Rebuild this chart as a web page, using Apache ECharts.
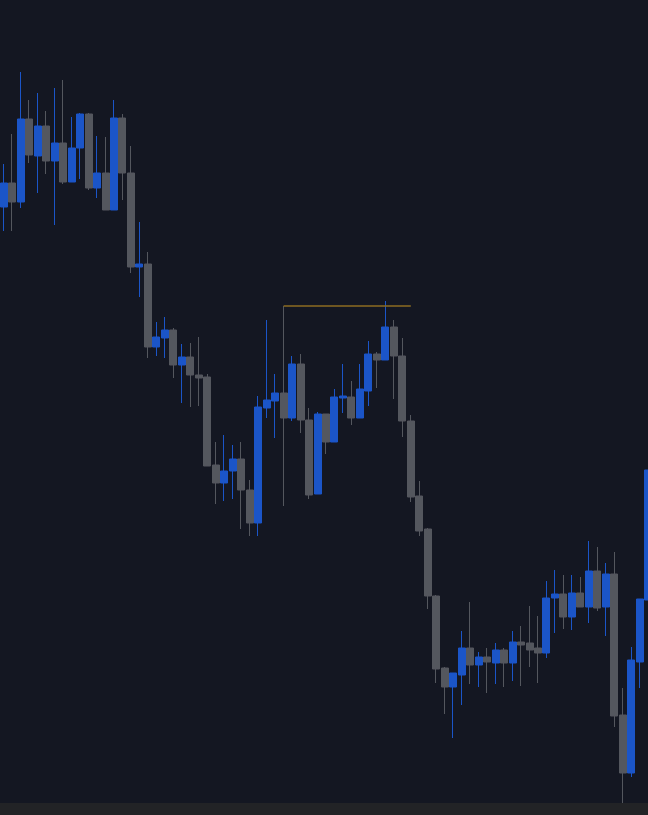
<!DOCTYPE html>
<html>
<head>
<meta charset="utf-8">
<script src="https://cdn.jsdelivr.net/npm/echarts@6/dist/echarts.min.js"></script>
<style>
html,body{margin:0;padding:0;background:#222326;}
#c{width:648px;height:815px;}
</style>
</head>
<body>
<div id="c"></div>
<script>
// Candle values (open, close, low, high)
const opens  = [613,637,618,701,664,694,659,677,638,672,706,632,647,610,702,647,553,556,473,482,490,455,463,445,443,355,337,349,361,330,297,412,419,427,402,456,400,326,406,378,422,423,402,429,466,460,493,464,399,324,291,224,152,133,145,172,155,163,157,170,157,178,177,172,167,222,226,203,227,213,249,213,246,105,47,158,220];
const closes = [637,618,701,665,694,659,677,638,672,706,632,647,610,702,647,553,556,473,483,490,455,463,445,442,354,337,349,361,330,297,413,420,427,402,456,400,325,406,378,423,424,402,431,466,460,493,464,399,323,289,224,151,133,147,172,155,163,158,170,157,178,175,170,167,222,226,203,227,213,249,212,246,104,47,160,221,350];
const lows   = [589,589,612,657,627,646,595,636,638,641,630,622,610,610,620,547,523,462,464,462,442,417,413,414,354,316,319,321,291,284,284,402,382,314,399,387,321,326,366,378,407,395,402,414,432,460,421,383,318,284,211,137,106,82,115,136,133,127,136,133,139,134,153,137,162,187,191,190,213,197,209,184,93,17,43,132,220];
const highs  = [656,686,748,720,727,709,732,740,703,707,707,684,683,720,706,674,598,568,498,503,492,476,477,483,446,378,385,375,378,340,424,500,446,514,464,466,412,408,406,431,456,439,456,479,468,519,500,482,405,339,292,225,153,147,189,218,168,172,177,172,189,194,214,204,239,250,245,245,243,279,273,257,268,132,173,221,362];
const categories = opens.map((_, i) => 'D' + (i + 1));
// Reference level drawn from the candle with the long upper wick
const levelStart = 33, levelEnd = 48, levelValue = 514;

const candles = opens.map((o, i) => [o, closes[i], lows[i], highs[i]]);

const chart = echarts.init(document.getElementById('c'), null, {renderer: 'canvas'});
chart.setOption({
  backgroundColor: '#222326',
  animation: false,
  grid: {left: -0.5, width: 653, top: 0, height: 803, show: true, backgroundColor: '#141722', borderWidth: 0,
    containLabel: false, outerBoundsMode: 'none'},
  xAxis: {type: 'category', data: categories, boundaryGap: true,
    axisLine: {show: false}, axisTick: {show: false}, axisLabel: {show: false}, splitLine: {show: false}},
  yAxis: {type: 'value', min: 17, max: 820, scale: true,
    axisLine: {show: false}, axisTick: {show: false}, axisLabel: {show: false}, splitLine: {show: false}},
  series: [{
    type: 'candlestick',
    data: candles,
    barWidth: 7.5,
    itemStyle: {color: '#1b55c8', color0: '#54575e', borderColor: '#1b55c8', borderColor0: '#54575e', borderWidth: 1},
    markLine: {
      silent: true, symbol: ['none', 'none'], label: {show: false},
      lineStyle: {color: '#8c6c22', width: 1.5, type: 'solid'},
      data: [[{coord: [categories[levelStart], levelValue]}, {coord: [categories[levelEnd], levelValue]}]]
    }
  }]
});
</script>
</body>
</html>
